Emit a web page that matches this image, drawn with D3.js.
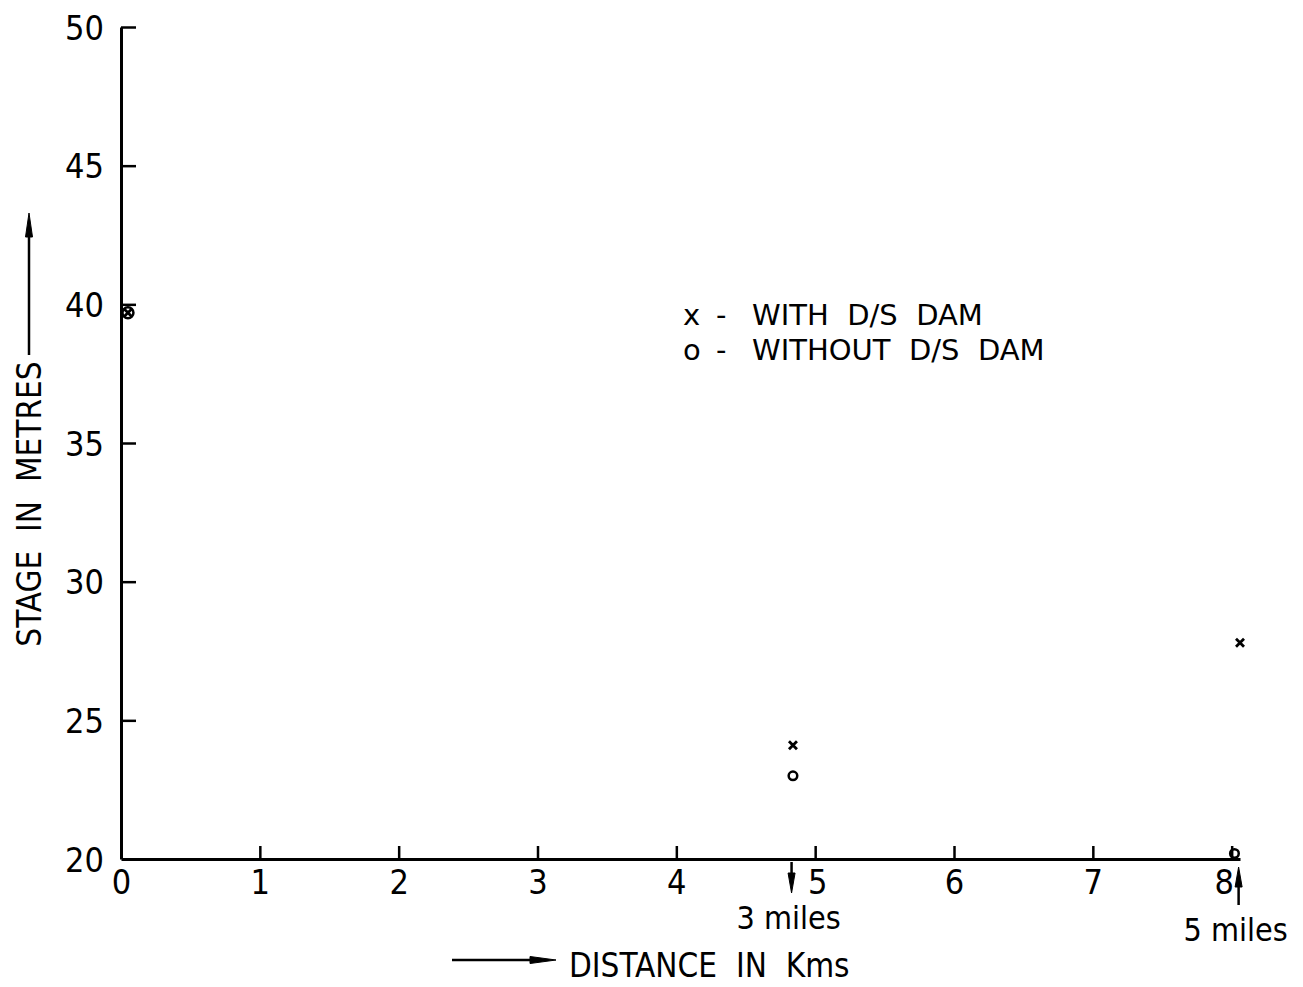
<!DOCTYPE html>
<html>
<head>
<meta charset="utf-8">
<script src="https://cdn.jsdelivr.net/npm/d3@7"></script>
<style>
  body { margin: 0; background: #fff; }
  svg { display: block; }
  text { fill: #000; }
</style>
</head>
<body>
<div id="chart"></div>
<script>
// values
const xTicks = [0, 1, 2, 3, 4, 5, 6, 7, 8];
const yTicks = [20, 25, 30, 35, 40, 45, 50];
const withDamKm = [0.05, 4.84, 8.06];
const withDamStage = [39.7, 24.1, 27.8];
const withoutDamKm = [0.05, 4.84, 8.02];
const withoutDamStage = [39.7, 23.0, 20.2];
const mileKm = [4.83, 8.05];
const mileLabels = ["3 miles", "5 miles"];
const legendSymbols = ["x", "o"];
const legendLabels = ["WITH  D/S  DAM", "WITHOUT  D/S  DAM"];

const width = 1303, height = 987;
const condensed = "'DejaVu Sans Condensed', 'DejaVu Sans', sans-serif";

const svg = d3.select("#chart").append("svg")
    .attr("width", width)
    .attr("height", height);

const x = d3.scaleLinear().domain([0, 8.06]).range([121, 1240]);
const y = d3.scaleLinear().domain([20, 50]).range([859, 27]);

// axes, ticks pointing inward
const xAxis = svg.append("g")
    .attr("transform", `translate(0,${y(20)})`)
    .call(d3.axisBottom(x).tickValues(xTicks).tickFormat(d3.format("d"))
        .tickSizeInner(-13).tickSizeOuter(0).tickPadding(11));

const yAxis = svg.append("g")
    .attr("transform", `translate(${x(0)},0)`)
    .call(d3.axisLeft(y).tickValues(yTicks).tickFormat(d3.format("d"))
        .tickSizeInner(-15).tickSizeOuter(0).tickPadding(17));

[xAxis, yAxis].forEach(g => {
    g.select(".domain").attr("stroke", "#000").attr("stroke-width", 3);
    g.selectAll(".tick line").attr("stroke", "#000").attr("stroke-width", 2.5);
    g.selectAll(".tick text")
        .style("font-family", condensed)
        .style("font-size", "34px")
        .attr("fill", "#000");
});
// no tick on the corner
xAxis.selectAll(".tick").filter(d => d === 0).select("line").remove();
yAxis.selectAll(".tick").filter(d => d === 20).select("line").remove();
yAxis.selectAll(".tick text").attr("dy", "0.36em");
// the 8 sits left of the 5-mile arrow
xAxis.selectAll(".tick text").filter(d => d === 8).attr("dx", -8);
xAxis.selectAll(".tick text").filter(d => d === 5).attr("dx", 2);

// arrow helper: line from (x1,y1) to (x2,y2) with filled head at the end
function arrow(x1, y1, x2, y2, headLen, headW) {
    const ang = Math.atan2(y2 - y1, x2 - x1);
    const bx = x2 - headLen * Math.cos(ang), by = y2 - headLen * Math.sin(ang);
    const px = -Math.sin(ang) * headW / 2, py = Math.cos(ang) * headW / 2;
    svg.append("line")
        .attr("x1", x1).attr("y1", y1).attr("x2", bx).attr("y2", by)
        .attr("stroke", "#000").attr("stroke-width", 2.5);
    svg.append("path")
        .attr("d", `M${x2},${y2}L${bx + px},${by + py}L${bx - px},${by - py}Z`)
        .attr("fill", "#000").attr("stroke", "#000").attr("stroke-width", 1);
}

// mile markers
arrow(x(mileKm[0]), y(20) + 3, x(mileKm[0]), y(20) + 34, 20, 7);
arrow(x(mileKm[1]), y(20) + 46, x(mileKm[1]), y(20) + 8, 20, 7);

svg.selectAll(".mile").data(mileLabels).enter().append("text")
    .attr("class", "mile")
    .attr("x", (d, i) => x(mileKm[i]) - 3)
    .attr("y", (d, i) => i === 0 ? 929 : 941)
    .attr("text-anchor", "middle")
    .style("font-family", condensed)
    .style("font-size", "32px")
    .text(d => d);

// series marks
const withG = svg.append("g");
withDamKm.forEach((d, i) => {
    const cx = x(d), cy = y(withDamStage[i]), s = 4;
    withG.append("path")
        .attr("d", `M${cx - s},${cy - s}L${cx + s},${cy + s}M${cx + s},${cy - s}L${cx - s},${cy + s}`)
        .attr("stroke", "#000").attr("stroke-width", 2.8);
});

svg.append("g").selectAll("circle")
    .data(withoutDamKm)
    .enter().append("circle")
    .attr("cx", d => x(d))
    .attr("cy", (d, i) => y(withoutDamStage[i]))
    .attr("r", (d, i) => i === 0 ? 5.5 : 4.3)
    .attr("fill", "none")
    .attr("stroke", "#000")
    .attr("stroke-width", 2.5);

// legend
const legend = svg.append("g")
    .style("font-family", "'DejaVu Sans', sans-serif")
    .style("font-size", "29px");
legendLabels.forEach((d, i) => {
    const ly = 325 + i * 35;
    legend.append("text").attr("x", 683).attr("y", ly).text(legendSymbols[i]);
    legend.append("text").attr("x", 716).attr("y", ly).text("-");
    legend.append("text").attr("x", 752).attr("y", ly)
        .style("white-space", "pre")
        .attr("xml:space", "preserve")
        .text(d);
});

// axis titles
svg.append("text")
    .attr("transform", "translate(41,504) rotate(-90)")
    .attr("text-anchor", "middle")
    .style("font-family", condensed)
    .style("font-size", "33px")
    .style("white-space", "pre")
    .attr("xml:space", "preserve")
    .text("STAGE  IN  METRES");
arrow(29, 355, 29, 213, 24, 7);

svg.append("text")
    .attr("x", 569)
    .attr("y", 977)
    .style("font-family", condensed)
    .style("font-size", "33px")
    .style("white-space", "pre")
    .attr("xml:space", "preserve")
    .text("DISTANCE  IN  Kms");
arrow(452, 960, 556, 960, 26, 7);
</script>
</body>
</html>
